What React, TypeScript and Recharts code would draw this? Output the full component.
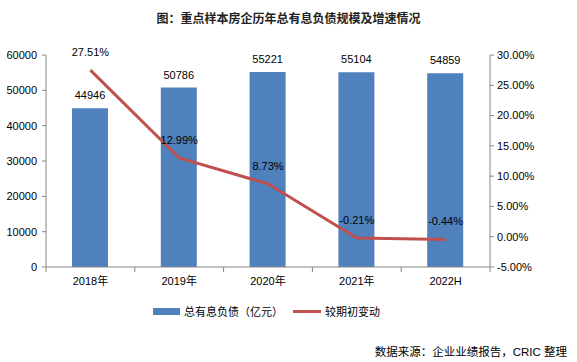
import React from 'react';
import { ComposedChart, Bar, Line, XAxis, YAxis, LabelList } from 'recharts';

const categories = ['2018年', '2019年', '2020年', '2021年', '2022H'];
const debtValues = [44946, 50786, 55221, 55104, 54859];
const changeRates = [27.51, 12.99, 8.73, -0.21, -0.44];
const leftTicks = [0, 10000, 20000, 30000, 40000, 50000, 60000];
const rightTicks = [-5, 0, 5, 10, 15, 20, 25, 30];

const data = categories.map((name, i) => ({ name, debt: debtValues[i], change: changeRates[i] }));

const W = 577;
const LEFT_W = 46;
const RIGHT_W = 87;
const BAND = (W - LEFT_W - RIGHT_W) / categories.length;
const FONT = '"Liberation Sans", "Noto Sans CJK SC", sans-serif';
const AXIS = '#868686';
const BLUE = '#4F81BD';
const RED = '#C0504D';

const XTick = (props: any) => {
  const { x, y, payload, index } = props;
  const last = index === categories.length - 1;
  return (
    <g>
      <line x1={x - BAND / 2} y1={y} x2={x - BAND / 2} y2={y + 5} stroke={AXIS} />
      {last && <line x1={x + BAND / 2} y1={y} x2={x + BAND / 2} y2={y + 5} stroke={AXIS} />}
      <text x={x} y={y + 18} textAnchor="middle" fontSize={11} fill="#000" fontFamily={FONT}>
        {payload.value}
      </text>
    </g>
  );
};

const pct = (v: any) => Number(v).toFixed(2) + '%';

export default function App() {
  return (
    <div style={{ position: 'absolute', left: 0, top: 0, width: W, height: 362, background: '#fff', fontFamily: FONT }}>
      <div style={{ position: 'absolute', top: 9, left: 0, width: W, textAlign: 'center', fontSize: 12, fontWeight: 'bold', color: '#222' }}>
        图：重点样本房企历年总有息负债规模及增速情况
      </div>
      <ComposedChart width={W} height={300} data={data} margin={{ top: 55, right: 0, bottom: 0, left: 0 }}>
        <XAxis
          dataKey="name"
          height={33}
          tickLine={false}
          tickSize={0}
          tickMargin={0}
          axisLine={{ stroke: AXIS }}
          tick={<XTick />}
          interval={0}
        />
        <YAxis
          yAxisId="left"
          width={LEFT_W}
          domain={[0, 60000]}
          ticks={leftTicks}
          interval={0}
          tickSize={4}
          tickMargin={5}
          axisLine={{ stroke: AXIS }}
          tickLine={{ stroke: AXIS }}
          tick={{ fill: '#000', fontSize: 11, fontFamily: FONT }}
        />
        <YAxis
          yAxisId="right"
          orientation="right"
          width={RIGHT_W}
          domain={[-5, 30]}
          ticks={rightTicks}
          interval={0}
          tickSize={4}
          tickMargin={3}
          tickFormatter={pct}
          axisLine={{ stroke: AXIS }}
          tickLine={{ stroke: AXIS }}
          tick={{ fill: '#000', fontSize: 11, fontFamily: FONT }}
        />
        <Bar yAxisId="left" dataKey="debt" fill={BLUE} barSize={36} isAnimationActive={false}>
          <LabelList dataKey="debt" position="top" offset={9} fill="#000" fontSize={11} fontFamily={FONT} />
        </Bar>
        <Line
          yAxisId="right"
          type="linear"
          dataKey="change"
          stroke={RED}
          strokeWidth={3}
          dot={false}
          isAnimationActive={false}
        >
          <LabelList dataKey="change" position="top" offset={14} formatter={pct} fill="#000" fontSize={11} fontFamily={FONT} />
        </Line>
      </ComposedChart>
      <div style={{ position: 'absolute', top: 303, left: 153, display: 'flex', alignItems: 'center', fontSize: 11, color: '#000' }}>
        <span style={{ display: 'inline-block', width: 27, height: 7, background: BLUE, marginRight: 4 }} />
        <span>总有息负债（亿元）</span>
        <span style={{ display: 'inline-block', width: 28, height: 3, background: RED, margin: '0 4px 0 10px' }} />
        <span>较期初变动</span>
      </div>
      <div style={{ position: 'absolute', top: 343, right: 10, fontSize: 11.5, color: '#000' }}>
        数据来源：企业业绩报告，CRIC 整理
      </div>
    </div>
  );
}
